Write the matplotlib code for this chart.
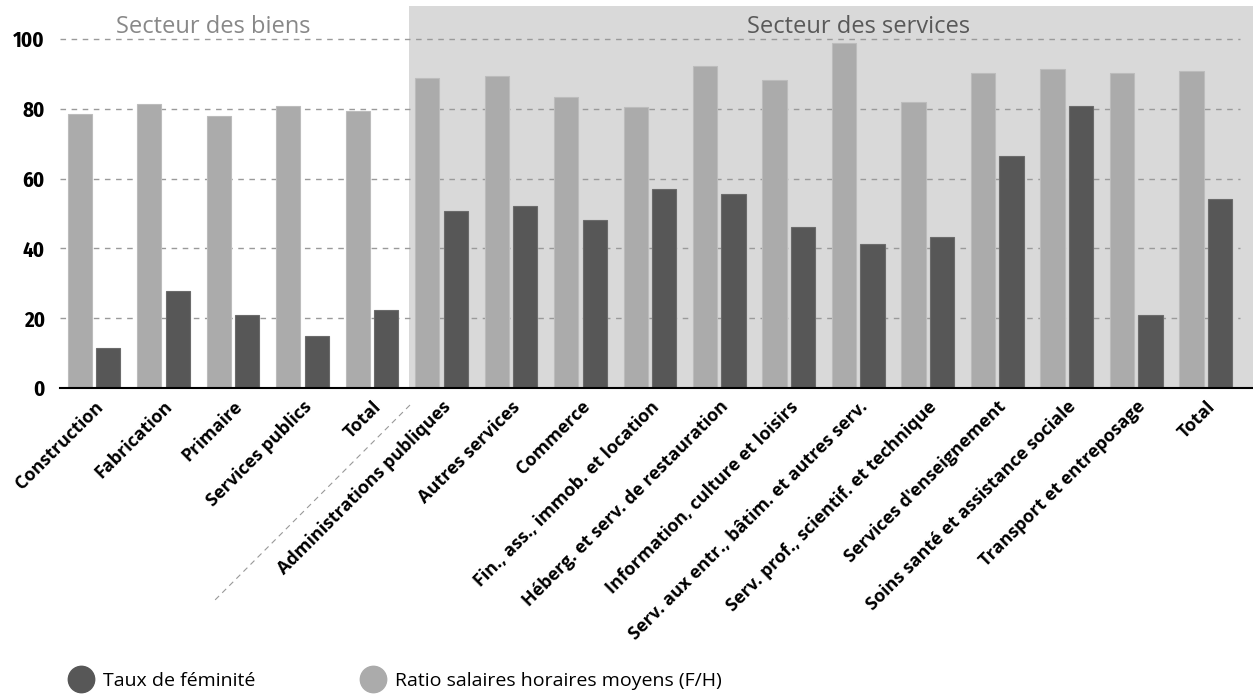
import numpy as np
import matplotlib
matplotlib.use("Agg")
from matplotlib import pyplot as plt
from matplotlib.lines import Line2D

# categories (goods sector first, then services sector)
categories = ["Construction", "Fabrication", "Primaire", "Services publics", "Total",
              "Administrations publiques", "Autres services", "Commerce",
              "Fin., ass., immob. et location", "Héberg. et serv. de restauration",
              "Information, culture et loisirs", "Serv. aux entr., bâtim. et autres serv.",
              "Serv. prof., scientif. et technique", "Services d'enseignement",
              "Soins santé et assistance sociale", "Transport et entreposage", "Total"]
# ratio of mean hourly wages women/men (light bars)
ratio_salaires = [78.6, 81.4, 77.9, 80.7, 79.4,
                  88.8, 89.5, 83.4, 80.6, 92.2, 88.2, 98.9,
                  81.9, 90.2, 91.5, 90.2, 90.8]
# share of women (dark bars)
taux_feminite = [11.5, 27.8, 21.0, 14.8, 22.3,
                 50.8, 52.1, 48.1, 56.9, 55.6, 46.0, 41.3,
                 43.4, 66.5, 80.7, 21.0, 54.2]
yticks = [0, 20, 40, 60, 80, 100]

light = "#ababab"
dark = "#575757"

fig = plt.figure(figsize=(12.53, 6.94), dpi=100)
ax = fig.add_axes([0.0479, 0.4409, 0.9521, 0.5504])

x = np.arange(len(categories))
ax.axvspan(4.53, 16.68, color="#d9d9d9", zorder=0, lw=0)
ax.hlines(yticks[1:], -0.49, 16.5, colors="#9a9a9a", linestyles=(0, (4, 4)), lw=1, zorder=1)
ax.bar(x - 0.205, ratio_salaires, 0.35, color=light, edgecolor="#bcbcbc", lw=0.8, zorder=2)
ax.bar(x + 0.205, taux_feminite, 0.35, color=dark, edgecolor="#6b6b6b", lw=0.8, zorder=2)

ax.set_xlim(-0.49, 16.68)
ax.set_ylim(0, 109.45)
for s in ["top", "right", "left"]:
    ax.spines[s].set_visible(False)
ax.spines["bottom"].set_linewidth(1.5)
ax.spines["bottom"].set_zorder(3)

ax.set_yticks(yticks)
ax.set_yticklabels([str(v) for v in yticks], fontsize=15, fontweight="bold",
                   family="Fira Sans Condensed")
ax.tick_params(axis="y", length=0, pad=11)
ax.set_xticks(x)
ax.set_xticklabels(categories, rotation=45, ha="right", va="top", rotation_mode="anchor",
                   fontsize=13, fontweight="bold", family="Open Sans")
ax.tick_params(axis="x", length=0, pad=7)

ax.text(1.71, 101.8, "Secteur des biens", ha="center", va="baseline",
        fontsize=17, color="#888888", family="Open Sans")
ax.text(11.01, 101.8, "Secteur des services", ha="center", va="baseline",
        fontsize=17, color="#595959", family="Open Sans")

# dashed separator under the labels
fig.add_artist(Line2D([0.3272, 0.1692], [0.4164, 0.1311], transform=fig.transFigure,
                      color="#999999", lw=0.8, linestyle=(0, (5, 4))))

h1 = Line2D([], [], marker="o", ls="", markersize=19, color=dark)
h2 = Line2D([], [], marker="o", ls="", markersize=19, color=light)
leg_font = {"family": "Open Sans", "size": 14}
fig.legend([h1], ["Taux de féminité"], loc="center left", bbox_to_anchor=(0.0571, 0.019),
           frameon=False, borderpad=0, borderaxespad=0, handlelength=1.0,
           handletextpad=0.62, prop=leg_font)
fig.legend([h2], ["Ratio salaires horaires moyens (F/H)"], loc="center left",
           bbox_to_anchor=(0.2902, 0.019), frameon=False, borderpad=0, borderaxespad=0,
           handlelength=1.0, handletextpad=0.62, prop=leg_font)

fig.savefig("out.png", dpi=100)
